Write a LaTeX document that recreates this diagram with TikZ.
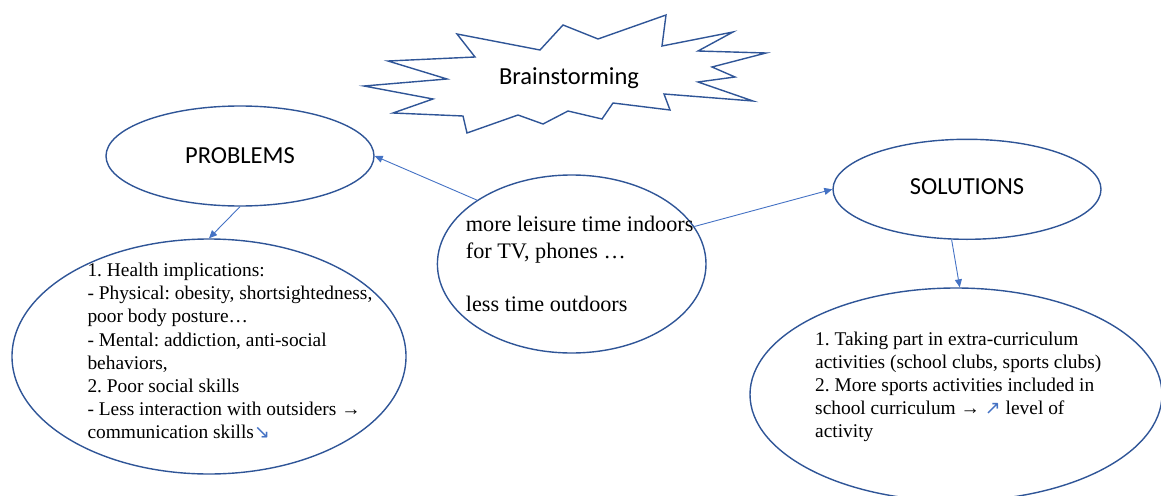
\documentclass[tikz,border=0pt]{standalone}
\usepackage{fontspec}
\setmainfont{Liberation Serif}
\newfontfamily\calib{Carlito}
\newfontfamily\djv{DejaVu Sans}
\usetikzlibrary{shapes.geometric,arrows.meta}
\definecolor{outl}{RGB}{47,85,151}
\definecolor{arr}{RGB}{68,114,196}
\newcommand\myarrglyph[1]{{\djv\fontsize{19}{19}\selectfont\color{arr}#1}}
\frenchspacing
\begin{document}
\begin{tikzpicture}[x=1pt,y=-1pt,
  ell/.style={draw=outl, line width=1.4pt, ellipse, inner sep=0pt},
  conn/.style={draw=arr, line width=0.9pt, -{Triangle[length=8pt,width=7pt]}},
  sanslabel/.style={font=\calib\fontsize{24.5}{29}\selectfont, inner sep=0pt},
  body/.style={anchor=base west, inner sep=0pt, font=\frenchspacing\fontsize{19.4}{23.1}\selectfont},
  midbody/.style={anchor=base west, inner sep=0pt, font=\frenchspacing\fontsize{22.2}{26.7}\selectfont}
]
\useasboundingbox (0,0) rectangle (1161,495);
\clip (0,0) rectangle (1161,495);

% starburst
\draw[draw=outl, line width=1.4pt, line join=miter]
  (364,86) -- (447,79) -- (388,61) -- (475,57) -- (457,34) -- (540,50) --
  (563,25) -- (598,39) -- (666,15) -- (662,46) -- (733,32) -- (698,51) --
  (766,53) -- (712,67) -- (735,77) -- (698,82) -- (753,101) -- (664,94) --
  (670,110) -- (613,103) -- (602,119) -- (568,111) -- (543,124) -- (518,115) --
  (467,133) -- (463,116) -- (393,113) -- (433,99) -- cycle;
\node[sanslabel] (brain) at (569,78) {Brainstorming};

% ellipses
\node[ell, minimum width=268pt, minimum height=100pt] (prob) at (240,156) {};
\node[sanslabel] (probtxt) at (240,156) {PROBLEMS};
\node[ell, minimum width=268pt, minimum height=100pt] (sol) at (967,189.3) {};
\node[sanslabel] (soltxt) at (967,187) {SOLUTIONS};
\node[ell, minimum width=268.6pt, minimum height=178pt] (ctr) at (571.7,264) {};
\node[ell, minimum width=394pt, minimum height=235pt] (lbig) at (209,356.5) {};
\node[ell, minimum width=412pt, minimum height=213pt] (rbig) at (956,394.5) {};

% texts
\node[midbody] (ctrtxt) at (465.7,231.7)
  {\begin{tabular}[t]{@{}l@{}}more leisure time indoors\\ for TV, phones …\\ \\ less time outdoors\end{tabular}};
\node[body] (ltxt) at (87.3,276.7)
  {\begin{tabular}[t]{@{}l@{}}1. Health implications:\\
  - Physical: obesity, shortsightedness,\\
  poor body posture…\\
  - Mental: addiction, anti-social\\
  behaviors,\\
  2. Poor social skills\\
  - Less interaction with outsiders →\\
  communication skills\myarrglyph{↘}\end{tabular}};
\node[body] (rtxt) at (815,345)
  {\begin{tabular}[t]{@{}l@{}}1. Taking part in extra-curriculum\\
  activities (school clubs, sports clubs)\\
  2. More sports activities included in\\
  school curriculum → \myarrglyph{↗} level of\\
  activity\end{tabular}};

% connectors
\draw[conn] (ctr.146.3) -- (prob.0);
\draw[conn] (prob.south) -- (lbig.north);
\draw[conn] (ctr.17.2) -- (sol.west);
\draw[conn] (sol.253.2) -- (rbig.88);
\end{tikzpicture}
\end{document}
